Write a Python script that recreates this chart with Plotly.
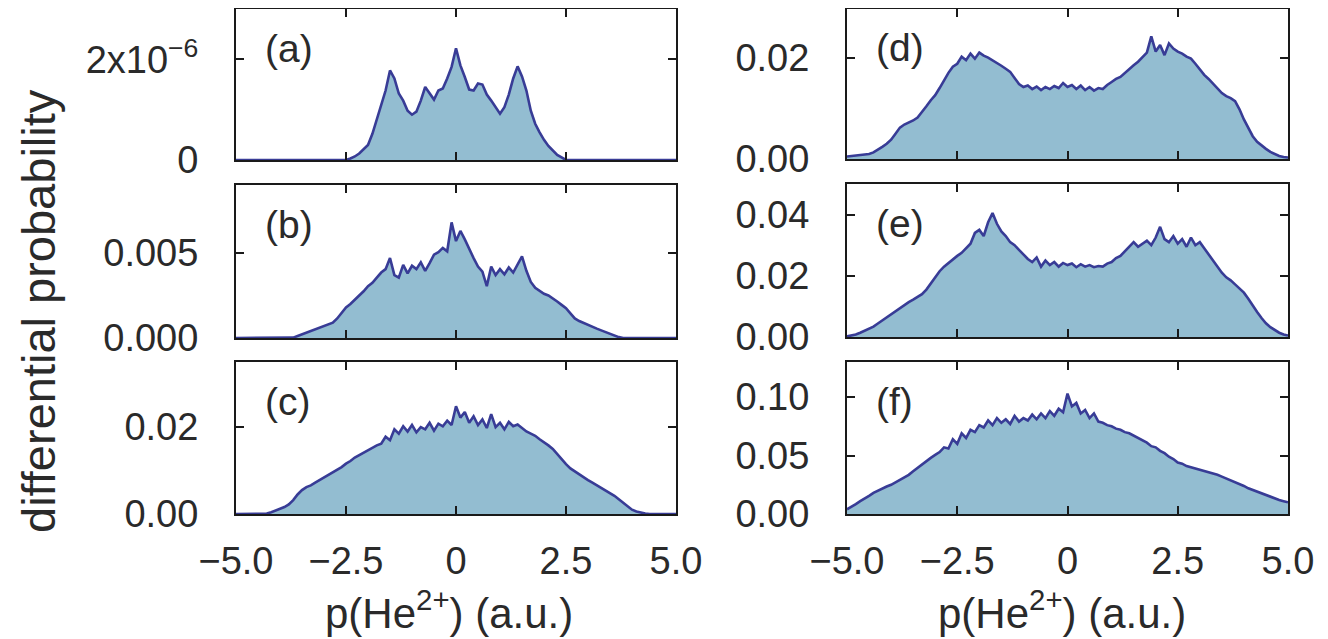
import plotly.graph_objects as go

# momentum grid p(He2+) in a.u. (bin centres)
p_grid = [round(-5 + 0.1 * i, 1) for i in range(101)]

# (a) units of 1e-6
panel_a = [0, 0, 0, 0, 0, 0, 0, 0, 0, 0,
           0, 0, 0, 0, 0, 0, 0, 0, 0, 0,
           0, 0, 0, 0, 0, 0, 0.03, 0.07, 0.13, 0.21,
           0.30, 0.52, 0.80, 1.08, 1.38, 1.78, 1.62, 1.32, 1.18, 0.98,
           0.90, 0.96, 1.18, 1.45, 1.32, 1.20, 1.38, 1.42, 1.62, 1.85,
           2.22, 1.88, 1.65, 1.40, 1.38, 1.52, 1.50, 1.30, 1.18, 1.05,
           0.92, 1.05, 1.30, 1.62, 1.86, 1.66, 1.38, 0.98, 0.72, 0.55,
           0.40, 0.28, 0.18, 0.10, 0.05, 0, 0, 0, 0, 0,
           0, 0, 0, 0, 0, 0, 0, 0, 0, 0,
           0, 0, 0, 0, 0, 0, 0, 0, 0, 0,
           0]
# (b) units of 1e-3
panel_b = [0, 0, 0, 0, 0, 0, 0, 0, 0, 0,
           0, 0, 0, 0.02, 0.12, 0.22, 0.33, 0.43, 0.52, 0.62,
           0.70, 0.80, 0.90, 1.15, 1.45, 1.80, 2.00, 2.25, 2.45, 2.75,
           3.05, 3.25, 3.55, 3.85, 4.05, 4.70, 3.70, 3.55, 4.30, 3.80,
           4.25, 4.05, 4.45, 3.95, 4.40, 4.90, 5.05, 5.30, 5.10, 6.80,
           5.70, 6.30, 5.80, 5.20, 4.70, 4.20, 3.90, 3.05, 4.20, 3.70,
           4.05, 3.75, 4.15, 3.85, 4.35, 4.80, 3.95, 3.30, 2.95, 2.75,
           2.60, 2.50, 2.35, 2.15, 1.95, 1.75, 1.45, 1.15, 1.00, 0.88,
           0.78, 0.68, 0.55, 0.45, 0.35, 0.25, 0.15, 0.05, 0, 0,
           0, 0, 0, 0, 0, 0, 0, 0, 0, 0,
           0]
# (c) units of 1e-2
panel_c = [0, 0, 0, 0, 0, 0, 0, 0.01, 0.04, 0.08,
           0.12, 0.16, 0.22, 0.32, 0.45, 0.55, 0.62, 0.66, 0.72, 0.78,
           0.84, 0.90, 0.95, 1.02, 1.08, 1.16, 1.22, 1.30, 1.36, 1.42,
           1.46, 1.52, 1.58, 1.62, 1.78, 1.70, 1.95, 1.85, 2.02, 1.90,
           2.05, 1.88, 2.00, 1.95, 2.10, 1.92, 2.08, 2.02, 2.15, 2.05,
           2.48, 2.22, 2.35, 2.10, 2.25, 2.05, 2.18, 1.98, 2.30, 2.00,
           2.10, 1.95, 2.12, 2.02, 2.06, 1.98, 1.90, 1.85, 1.80, 1.72,
           1.66, 1.58, 1.50, 1.38, 1.25, 1.15, 1.05, 0.98, 0.90, 0.84,
           0.78, 0.72, 0.66, 0.60, 0.55, 0.48, 0.42, 0.34, 0.26, 0.18,
           0.10, 0.06, 0.03, 0.01, 0, 0, 0, 0, 0, 0,
           0]
# (d) units of 1e-2
panel_d = [0.05, 0.06, 0.07, 0.08, 0.09, 0.10, 0.13, 0.18, 0.24, 0.30,
           0.38, 0.50, 0.62, 0.68, 0.72, 0.76, 0.82, 0.92, 1.04, 1.16,
           1.26, 1.40, 1.55, 1.70, 1.82, 1.88, 2.02, 1.95, 2.08, 1.98,
           2.10, 2.04, 2.00, 1.95, 1.90, 1.84, 1.78, 1.72, 1.60, 1.48,
           1.42, 1.45, 1.38, 1.43, 1.36, 1.42, 1.38, 1.44, 1.40, 1.50,
           1.42, 1.46, 1.38, 1.45, 1.36, 1.42, 1.35, 1.40, 1.38, 1.46,
           1.52, 1.58, 1.62, 1.70, 1.78, 1.85, 1.92, 2.02, 2.10, 2.42,
           2.12, 2.25, 2.05, 2.28, 2.18, 2.12, 2.08, 2.02, 1.98, 1.88,
           1.76, 1.66, 1.58, 1.48, 1.38, 1.30, 1.24, 1.20, 1.14, 0.98,
           0.78, 0.60, 0.45, 0.34, 0.26, 0.20, 0.14, 0.10, 0.06, 0.04,
           0.03]
# (e) units of 1e-2
panel_e = [0.02, 0.04, 0.08, 0.14, 0.20, 0.27, 0.34, 0.44, 0.54, 0.64,
           0.74, 0.86, 0.96, 1.05, 1.14, 1.22, 1.30, 1.40, 1.55, 1.75,
           1.95, 2.15, 2.30, 2.42, 2.55, 2.65, 2.75, 2.90, 3.05, 3.40,
           3.50, 3.30, 3.75, 4.05, 3.70, 3.45, 3.30, 3.10, 3.00, 2.85,
           2.70, 2.55, 2.45, 2.60, 2.30, 2.50, 2.35, 2.45, 2.30, 2.42,
           2.35, 2.40, 2.28, 2.38, 2.30, 2.35, 2.28, 2.32, 2.30, 2.40,
           2.45, 2.58, 2.65, 2.80, 2.95, 3.10, 2.95, 3.05, 3.15, 3.00,
           3.25, 3.60, 3.20, 3.10, 3.30, 3.05, 3.20, 2.95, 3.25, 3.00,
           3.10, 2.90, 2.70, 2.50, 2.30, 2.10, 1.95, 1.85, 1.72, 1.58,
           1.45, 1.25, 1.02, 0.82, 0.62, 0.45, 0.32, 0.22, 0.14, 0.08,
           0.05]
# (f) units of 1e-2
panel_f = [0.40, 0.60, 0.85, 1.10, 1.30, 1.55, 1.80, 2.00, 2.15, 2.35,
           2.50, 2.70, 2.90, 3.10, 3.35, 3.65, 3.95, 4.20, 4.50, 4.80,
           5.05, 5.30, 5.70, 5.60, 6.40, 6.00, 6.90, 6.50, 7.20, 7.00,
           7.60, 7.40, 8.00, 7.60, 8.20, 7.80, 8.10, 7.70, 8.40, 7.90,
           8.20, 8.00, 8.50, 8.10, 8.60, 8.20, 8.80, 8.40, 9.00, 8.70,
           10.30, 9.20, 9.50, 8.60, 8.90, 8.20, 8.60, 7.90, 7.80, 7.60,
           7.50, 7.30, 7.20, 7.00, 6.90, 6.70, 6.50, 6.30, 6.10, 5.80,
           5.70, 5.40, 5.20, 4.90, 4.70, 4.40, 4.30, 4.10, 4.00, 3.90,
           3.80, 3.70, 3.60, 3.50, 3.35, 3.20, 3.05, 2.90, 2.70, 2.55,
           2.40, 2.20, 2.05, 1.90, 1.75, 1.60, 1.45, 1.30, 1.20, 1.10,
           1.00]

panel_labels = ["(a)", "(b)", "(c)", "(d)", "(e)", "(f)"]
panel_scales = [1e-6, 1e-3, 1e-2, 1e-2, 1e-2, 1e-2]
panel_yrange = [3.0e-6, 0.009, 0.035, 0.0296, 0.050, 0.130]
panel_yticks = [[0, 2e-6], [0, 0.005], [0, 0.02], [0, 0.02], [0, 0.02, 0.04], [0, 0.05, 0.10]]
panel_yticktext = [["0", "2x10<sup>−6</sup>"], ["0.000", "0.005"], ["0.00", "0.02"],
                   ["0.00", "0.02"], ["0.00", "0.02", "0.04"], ["0.00", "0.05", "0.10"]]
x_tickvals = [-5, -2.5, 0, 2.5, 5]
x_ticktext = ["−5.0", "−2.5", "0", "2.5", "5.0"]
x_title = "p(He<sup>2+</sup>) (a.u.)"
y_title = "differential probability"

panel_data = [panel_a, panel_b, panel_c, panel_d, panel_e, panel_f]

# The page body has an 8px default margin, so the figure is drawn 8px in from
# the window corner; work in window pixels and subtract that offset.
OFF = 8
W, H = 1328 - OFF, 639 - OFF
# pixel boxes in window coordinates (left, right, top, bottom)
boxes = [(236, 676, 9, 160), (236, 676, 185, 338), (236, 676, 362, 514),
         (847, 1288, 9, 159), (847, 1288, 184, 337), (847, 1288, 362, 514)]


def px(x):
    return min(1.0, max(0.0, (x - OFF) / W))


def py(y):
    return min(1.0, max(0.0, 1 - (y - OFF) / H))


FILL = "#93bdd1"
LINE = "#383c96"
FONT = "Liberation Sans, Arial, Helvetica, sans-serif"
TXT = "#2a2a2a"

fig = go.Figure()
for i in range(6):
    n = i + 1
    xa = "x" if n == 1 else f"x{n}"
    ya = "y" if n == 1 else f"y{n}"
    yvals = [v * panel_scales[i] for v in panel_data[i]]
    fig.add_trace(go.Scatter(x=p_grid, y=yvals, xaxis=xa, yaxis=ya, mode="lines",
                             line=dict(color=LINE, width=2.6), fill="tozeroy",
                             fillcolor=FILL, showlegend=False))
    l, r, t, b = boxes[i]
    bottom_row = i in (2, 5)
    xax = dict(domain=[px(l), px(r)], range=[-5, 5], anchor=ya, automargin=False,
               showline=True, linecolor="#1a1a1a", linewidth=2, mirror="ticks",
               ticks="inside", ticklen=8, tickwidth=1.5, tickcolor="#1a1a1a",
               tickvals=x_tickvals, ticktext=x_ticktext, showticklabels=bottom_row,
               tickfont=dict(family=FONT, size=38, color=TXT),
               showgrid=False, zeroline=False, ticklabelstandoff=12)
    yax = dict(domain=[py(b), py(t)], range=[0, panel_yrange[i]], anchor=xa,
               automargin=False,
               showline=True, linecolor="#1a1a1a", linewidth=2, mirror="ticks",
               ticks="inside", ticklen=8, tickwidth=1.5, tickcolor="#1a1a1a",
               tickvals=panel_yticks[i], ticktext=panel_yticktext[i],
               tickfont=dict(family=FONT, size=38, color=TXT),
               showgrid=False, zeroline=False, ticklabelstandoff=28)
    fig.layout["xaxis" if n == 1 else f"xaxis{n}"] = xax
    fig.layout["yaxis" if n == 1 else f"yaxis{n}"] = yax
    fig.add_annotation(text=panel_labels[i], xref=f"{xa} domain", yref=f"{ya} domain",
                       x=0.062, y=0.74, xanchor="left", yanchor="middle", showarrow=False,
                       font=dict(family=FONT, size=39, color=TXT))

fig.add_annotation(text=y_title, xref="paper", yref="paper", x=px(38), y=py(311),
                   textangle=-90, showarrow=False, xanchor="center", yanchor="middle",
                   font=dict(family=FONT, size=47, color=TXT))
for cx in (449, 1062):
    fig.add_annotation(text=x_title, xref="paper", yref="paper", x=px(cx), y=py(610),
                       showarrow=False, xanchor="center", yanchor="middle",
                       font=dict(family=FONT, size=42, color=TXT))

fig.update_layout(width=W, height=H, autosize=False,
                  margin=dict(l=0, r=0, t=0, b=0, autoexpand=False),
                  paper_bgcolor="white", plot_bgcolor="white")
fig.write_html("out.html")
